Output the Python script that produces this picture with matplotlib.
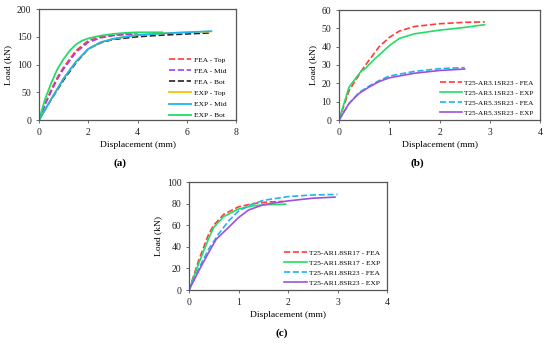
import matplotlib
matplotlib.use('Agg')
import matplotlib.pyplot as plt

plt.rcParams['font.family'] = ['Liberation Serif', 'DejaVu Serif']

# ---- panel (a) ----
a_fea_top_d = [0, 0.25, 0.5, 0.75, 1, 1.5, 2, 2.5, 3, 3.5, 3.9]
a_fea_top_l = [0, 30, 55, 77, 95, 125, 143, 150, 153, 155, 156]
a_fea_mid_d = [0, 0.25, 0.5, 0.75, 1, 1.5, 2, 2.5, 3, 3.5, 4]
a_fea_mid_l = [0, 28, 52, 74, 92, 122, 140, 148, 152, 154, 155]
a_fea_bot_d = [0, 0.5, 1, 1.5, 2, 2.5, 3, 4, 5, 6, 7]
a_fea_bot_l = [0, 37, 72, 103, 128, 139, 145, 150, 153, 155, 157]
a_exp_top_d = [0, 0.5, 1, 1.5, 2, 2.5, 3, 3.5, 4, 5, 6, 6.9]
a_exp_top_l = [0, 38, 75, 105, 128, 140, 146, 150, 153, 156, 158, 159]
a_exp_mid_d = [0, 0.5, 1, 1.5, 2, 2.5, 3, 3.5, 4, 5, 6, 7]
a_exp_mid_l = [0, 38, 75, 105, 128, 140, 146, 150, 153, 156, 158, 160]
a_exp_bot_d = [0, 0.25, 0.5, 0.75, 1, 1.25, 1.5, 1.75, 2, 2.5, 3, 3.5, 4, 4.5, 5]
a_exp_bot_l = [0, 38, 67, 92, 110, 125, 136, 143, 147, 152, 155, 157, 158, 158, 158]

# ---- panel (b) ----
b_fea31_d = [0, 0.2, 0.5, 0.8, 1, 1.2, 1.5, 2, 2.5, 2.9]
b_fea31_l = [0, 16, 29, 40, 45, 48.5, 51, 52.5, 53.3, 53.5]
b_exp31_d = [0, 0.2, 0.45, 0.5, 0.7, 0.9, 1, 1.2, 1.5, 2, 2.5, 2.9]
b_exp31_l = [0, 18, 27, 27.5, 33, 38, 40.5, 44.5, 47, 49, 50.5, 52]
b_fea53_d = [0, 0.2, 0.4, 0.6, 0.8, 1, 1.5, 2, 2.5]
b_fea53_l = [0, 9, 15, 18.5, 21.5, 24, 26.5, 28, 28.6]
b_exp53_d = [0, 0.2, 0.4, 0.6, 0.8, 1, 1.5, 2, 2.5]
b_exp53_l = [0, 9, 14.5, 18, 21, 23, 25.5, 27, 27.8]

# ---- panel (c) ----
c_fea17_d = [0, 0.2, 0.4, 0.5, 0.7, 1, 1.3, 1.6, 1.9]
c_fea17_l = [0, 28, 52, 60, 70, 77, 80, 81.5, 82]
c_exp17_d = [0, 0.2, 0.4, 0.5, 0.7, 1, 1.3, 1.6, 1.95]
c_exp17_l = [0, 25, 48, 58, 68, 75, 78, 79, 79.5]
c_fea23_d = [0, 0.2, 0.4, 0.6, 0.8, 1, 1.25, 1.5, 2, 2.5, 3]
c_fea23_l = [0, 20, 38, 52, 64, 73, 79, 83, 86.5, 88, 88.5]
c_exp23_d = [0, 0.2, 0.4, 0.55, 0.8, 1, 1.2, 1.5, 2, 2.5, 2.95]
c_exp23_l = [0, 18, 35, 47, 58, 67, 74, 79, 82.5, 85, 86]

W, H = 550, 346
fig = plt.figure(figsize=(W / 100, H / 100), dpi=100)

def make_ax(left, top, width, height):
    ax = fig.add_axes([left / W, (H - top - height) / H, width / W, height / H])
    for s in ax.spines.values():
        s.set_color('#555555')
        s.set_linewidth(0.9)
    ax.tick_params(direction='out', length=2.5, width=0.6, colors='#555555',
                   labelsize=7, labelcolor='#222222', pad=3)
    ax.set_xlabel('Displacement (mm)', fontsize=6.8, labelpad=3)
    ax.set_ylabel('Load (kN)', fontsize=6.8, labelpad=3)
    return ax

red = '#FF3B3B'
purple_d = '#A040E8'
green = '#22DD66'
blue = '#1EB4F0'
yellow = '#FFC000'
purple = '#A050D8'

# (a)
ax = make_ax(39, 9, 197, 111)
ax.plot(a_fea_top_d, a_fea_top_l, '--', color=red, lw=1.2, label='FEA - Top')
ax.plot(a_fea_mid_d, a_fea_mid_l, '--', color=purple_d, lw=1.2, label='FEA - Mid')
ax.plot(a_fea_bot_d, a_fea_bot_l, '--', color='#222222', lw=1.2, label='FEA - Bot')
ax.plot(a_exp_top_d, a_exp_top_l, '-', color=yellow, lw=1.3, label='EXP - Top')
ax.plot(a_exp_mid_d, a_exp_mid_l, '-', color=blue, lw=1.3, label='EXP - Mid')
ax.plot(a_exp_bot_d, a_exp_bot_l, '-', color=green, lw=1.3, label='EXP - Bot')
ax.set_xlim(0, 8)
ax.set_ylim(0, 200)
ax.set_xticks([0, 2, 4, 6, 8])
ax.set_yticks([0, 50, 100, 150, 200])
ax.legend(loc='lower right', bbox_to_anchor=(0.985, -0.046), frameon=False,
          fontsize=5.4, handlelength=3.0, handletextpad=0.3, labelspacing=0.65)
fig.text(120 / W, 1 - 163 / H, '(a)', ha='center', va='center', fontsize=8, fontweight='bold')

# (b)
ax = make_ax(339, 10, 201, 110)
ax.plot(b_fea31_d, b_fea31_l, '--', color=red, lw=1.2, label='T25-AR3.1SR23 - FEA')
ax.plot(b_exp31_d, b_exp31_l, '-', color=green, lw=1.2, label='T25-AR3.1SR23 - EXP')
ax.plot(b_fea53_d, b_fea53_l, '--', color=blue, lw=1.2, label='T25-AR5.3SR23 - FEA')
ax.plot(b_exp53_d, b_exp53_l, '-', color=purple, lw=1.2, label='T25-AR5.3SR23 - EXP')
ax.set_xlim(0, 4)
ax.set_ylim(0, 60)
ax.set_xticks([0, 1, 2, 3, 4])
ax.set_yticks([0, 10, 20, 30, 40, 50, 60])
ax.legend(loc='lower right', bbox_to_anchor=(1.0, -0.022), frameon=False,
          fontsize=5.2, handlelength=3.0, handletextpad=0.3, labelspacing=0.55)
fig.text(417 / W, 1 - 163 / H, '(b)', ha='center', va='center', fontsize=8, fontweight='bold')

# (c)
ax = make_ax(189, 182, 198, 108)
ax.plot(c_fea17_d, c_fea17_l, '--', color=red, lw=1.2, label='T25-AR1.8SR17 - FEA')
ax.plot(c_exp17_d, c_exp17_l, '-', color=green, lw=1.2, label='T25-AR1.8SR17 - EXP')
ax.plot(c_fea23_d, c_fea23_l, '--', color=blue, lw=1.2, label='T25-AR1.8SR23 - FEA')
ax.plot(c_exp23_d, c_exp23_l, '-', color=purple, lw=1.2, label='T25-AR1.8SR23 - EXP')
ax.set_xlim(0, 4)
ax.set_ylim(0, 100)
ax.set_xticks([0, 1, 2, 3, 4])
ax.set_yticks([0, 20, 40, 60, 80, 100])
ax.legend(loc='lower right', bbox_to_anchor=(1.0, -0.022), frameon=False,
          fontsize=5.4, handlelength=3.0, handletextpad=0.3, labelspacing=0.5)
fig.text(282 / W, 1 - 333 / H, '(c)', ha='center', va='center', fontsize=8, fontweight='bold')

fig.savefig('out.png', dpi=100)
